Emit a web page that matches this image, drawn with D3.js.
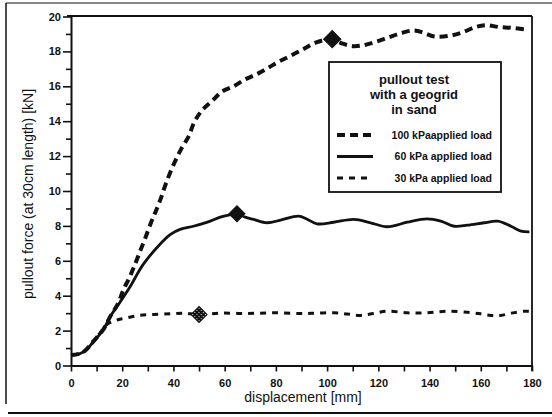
<!DOCTYPE html>
<html>
<head>
<meta charset="utf-8">
<script src="https://cdn.jsdelivr.net/npm/d3@7/dist/d3.min.js"></script>
<style>
  html, body { margin: 0; padding: 0; background: #fff; }
  svg { display: block; font-family: "Liberation Sans", Arial, Helvetica, sans-serif; }
</style>
</head>
<body>
<svg id="chart" width="552" height="417"></svg>
<script>
// Pullout force vs. displacement, geogrid in sand, three normal loads
const xTicks = [0, 20, 40, 60, 80, 100, 120, 140, 160, 180];
const xMinorTicks = [10, 30, 50, 70, 90, 110, 130, 150, 170];
const yTicks = [0, 2, 4, 6, 8, 10, 12, 14, 16, 18, 20];
const yMinorTicks = [1, 3, 5, 7, 9, 11, 13, 15, 17, 19];

const seriesNames = ["100 kPaapplied load", "60 kPa applied load", "30 kPa applied load"];

// displacement [mm], force [kN]
const load100 = [
  [0, 0.6], [3.5, 0.68], [6, 0.92], [8.7, 1.38], [12.6, 2.06], [15.3, 2.8], [18.5, 3.6],
  [20.5, 4.36], [22.8, 5.03], [25, 5.8], [27, 6.56], [29, 7.3], [31, 8.1], [33, 8.8],
  [35, 9.55], [37, 10.4], [40, 11.5], [43, 12.4], [46, 13.15], [48, 13.9], [51, 14.6],
  [55, 15.15], [59, 15.7], [63.5, 16.0], [68, 16.4], [72.6, 16.7], [77, 17.06], [81, 17.4],
  [86, 17.77], [91, 18.15], [95.5, 18.5], [102, 18.7], [106, 18.45], [110, 18.3],
  [114, 18.35], [119, 18.55], [124, 18.8], [129, 19.05], [134, 19.2], [138, 19.05],
  [142, 18.85], [148, 18.9], [153, 19.1], [158, 19.4], [162, 19.5], [167, 19.4],
  [172, 19.35], [178, 19.25]
];
const load60 = [
  [0, 0.6], [3.5, 0.68], [6, 0.9], [8.7, 1.35], [12.6, 2.05], [15.3, 2.8], [19, 3.6],
  [23, 4.5], [28, 5.75], [33.5, 6.75], [38.7, 7.5], [42.6, 7.8], [47.8, 7.98], [53, 8.2],
  [58.3, 8.5], [61.5, 8.62], [64.8, 8.7], [68, 8.5], [71.3, 8.37], [76.6, 8.18],
  [81.8, 8.33], [88.9, 8.56], [92, 8.4], [96, 8.12], [102.6, 8.21], [110.4, 8.37],
  [117, 8.18], [123.5, 7.95], [131.3, 8.21], [139, 8.4], [144.4, 8.27], [149.6, 7.98],
  [154.8, 8.04], [161.3, 8.18], [166.6, 8.27], [171.8, 7.98], [175.7, 7.7], [179, 7.66]
];
const load30 = [
  [0, 0.6], [3.5, 0.68], [6, 0.9], [8.7, 1.35], [12, 2.0], [14, 2.35], [16.6, 2.54],
  [19, 2.65], [21.8, 2.73], [27, 2.88], [32.2, 2.92], [38.7, 2.96], [43.9, 3.0],
  [50, 2.92], [58.3, 3.0], [68.7, 2.98], [79.1, 3.02], [89.6, 2.98], [96, 3.0],
  [102.6, 3.02], [108, 2.95], [113, 2.87], [118, 2.98], [123.5, 3.11], [131.3, 3.02],
  [139, 3.02], [147, 3.11], [154.8, 3.05], [160, 2.96], [164, 2.87], [167.8, 2.87],
  [172, 3.0], [177, 3.11], [180, 3.1]
];

// peak markers [displacement, force]
const peak100 = [102, 18.7];
const peak60 = [64.8, 8.7];
const peak30 = [50, 2.92];

const ink = "#111";
const svg = d3.select("#chart");

const x = d3.scaleLinear().domain([0, 180]).range([71, 532]);
const y = d3.scaleLinear().domain([0, 20]).range([365.5, 16.5]);

// dithered fill for the 30 kPa marker
const defs = svg.append("defs");
const pat = defs.append("pattern").attr("id", "dither")
  .attr("width", 3).attr("height", 3).attr("patternUnits", "userSpaceOnUse");
pat.append("rect").attr("width", 3).attr("height", 3).attr("fill", ink);
pat.append("rect").attr("x", 1).attr("y", 1).attr("width", 1).attr("height", 1).attr("fill", "#fff");

// outer frame (top, left, bottom)
svg.append("line").attr("x1", 6).attr("y1", 3).attr("x2", 552).attr("y2", 3)
  .attr("stroke", ink).attr("stroke-width", 1.2);
svg.append("line").attr("x1", 6).attr("y1", 3).attr("x2", 6).attr("y2", 404)
  .attr("stroke", ink).attr("stroke-width", 1.5);
svg.append("line").attr("x1", 8).attr("y1", 413).attr("x2", 552).attr("y2", 413)
  .attr("stroke", ink).attr("stroke-width", 1.8);

// plot box: top and right borders
svg.append("line").attr("x1", 67).attr("y1", 16).attr("x2", 532).attr("y2", 16)
  .attr("stroke", ink).attr("stroke-width", 1.8);
svg.append("line").attr("x1", 532).attr("y1", 16).attr("x2", 532).attr("y2", 371)
  .attr("stroke", ink).attr("stroke-width", 1.8);

// axes
const yAxis = svg.append("g").attr("transform", "translate(71,0)")
  .call(d3.axisLeft(y).tickValues(yTicks).tickSize(8).tickSizeOuter(0).tickPadding(2)
    .tickFormat(d3.format("d")));
svg.append("g").attr("transform", "translate(71,0)")
  .call(d3.axisLeft(y).tickValues(yMinorTicks).tickSize(5).tickSizeOuter(0).tickFormat(""))
  .select(".domain").remove();

const xAxis = svg.append("g").attr("transform", "translate(0,365.5)")
  .call(d3.axisBottom(x).tickValues(xTicks).tickSize(6).tickSizeOuter(0).tickPadding(8)
    .tickFormat(d3.format("d")));
svg.append("g").attr("transform", "translate(0,365.5)")
  .call(d3.axisBottom(x).tickValues(xMinorTicks).tickSize(6).tickSizeOuter(0).tickFormat(""))
  .select(".domain").remove();

svg.selectAll(".domain").attr("stroke", ink).attr("stroke-width", 2);
svg.selectAll(".tick line").attr("stroke", ink).attr("stroke-width", 1.6);
svg.selectAll(".tick text")
  .attr("fill", ink)
  .style("font-family", "'Liberation Sans', Arial, sans-serif")
  .style("font-size", "11px")
  .style("font-weight", "bold");

// axis titles
svg.append("text")
  .attr("x", 303).attr("y", 402)
  .attr("text-anchor", "middle")
  .attr("fill", ink)
  .style("font-size", "14px")
  .text("displacement [mm]");

svg.append("text")
  .attr("transform", "translate(33,194) rotate(-90)")
  .attr("text-anchor", "middle")
  .attr("fill", ink)
  .style("font-size", "14px")
  .text("pullout force (at 30cm length) [kN]");

// curves
const line = d3.line()
  .x(d => x(d[0]))
  .y(d => y(d[1]))
  .curve(d3.curveCatmullRom.alpha(0.5));

const styles = [
  { data: load100, width: 4, dash: "8,5" },
  { data: load60, width: 2.8, dash: null },
  { data: load30, width: 3, dash: "6,6" }
];

styles.forEach(s => {
  svg.append("path")
    .datum(s.data)
    .attr("d", line)
    .attr("fill", "none")
    .attr("stroke", ink)
    .attr("stroke-width", s.width)
    .attr("stroke-dasharray", s.dash);
});

// peak markers
const diamond = size => d3.symbol(d3.symbolSquare, size)();
[
  { p: peak100, size: 150, fill: ink },
  { p: peak60, size: 128, fill: ink },
  { p: peak30, size: 128, fill: "url(#dither)" }
].forEach(m => {
  svg.append("path")
    .attr("d", diamond(m.size))
    .attr("transform", `translate(${x(m.p[0])},${y(m.p[1])}) rotate(45)`)
    .attr("fill", m.fill)
    .attr("stroke", ink)
    .attr("stroke-width", 1);
});

// legend
const lg = svg.append("g");
lg.append("rect")
  .attr("x", 329).attr("y", 62).attr("width", 172).attr("height", 130)
  .attr("fill", "#fff").attr("stroke", ink).attr("stroke-width", 1.8);

const titleLines = ["pullout test", "with a geogrid", "in sand"];
lg.selectAll("text.title").data(titleLines).enter().append("text")
  .attr("class", "title")
  .attr("x", 414)
  .attr("y", (d, i) => 84 + i * 15)
  .attr("text-anchor", "middle")
  .attr("fill", ink)
  .style("font-size", "13px")
  .style("font-weight", "bold")
  .text(d => d);

seriesNames.forEach((name, i) => {
  const yy = 135 + i * 21.5;
  lg.append("line")
    .attr("x1", 337).attr("x2", 373).attr("y1", yy).attr("y2", yy)
    .attr("stroke", ink)
    .attr("stroke-width", styles[i].width)
    .attr("stroke-dasharray", styles[i].dash);
  lg.append("text")
    .attr("x", 492).attr("y", yy + 3.5)
    .attr("text-anchor", "end")
    .attr("fill", ink)
    .style("font-size", "10.5px")
    .style("font-weight", "bold")
    .text(name);
});
</script>
</body>
</html>
